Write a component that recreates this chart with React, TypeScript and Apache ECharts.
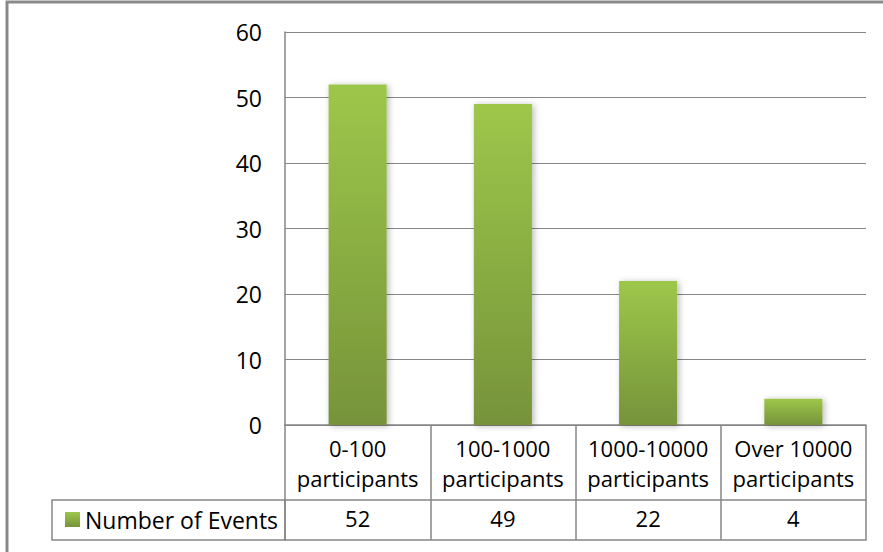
import React, { useEffect, useRef } from "react";
import * as echarts from "echarts";

const categories = ["0-100\nparticipants", "100-1000\nparticipants", "1000-10000\nparticipants", "Over 10000\nparticipants"];
const seriesName = "Number of Events";
const values = [52, 49, 22, 4];
const yTicks = { min: 0, max: 60, interval: 10 };

const FONT = "'Open Sans', 'Noto Sans', sans-serif";
const GRID_COLOR = "#868686";

export default function App() {
  const ref = useRef<HTMLDivElement>(null);
  useEffect(() => {
    if (!ref.current) return;
    const chart = echarts.init(ref.current, undefined, { renderer: "svg" });
    const grid = { left: 285, top: 32, right: 17, bottom: 127 };
    chart.setOption({
      animation: false,
      backgroundColor: "#ffffff",
      textStyle: { fontFamily: FONT },
      grid: { ...grid, containLabel: false },
      legend: {
        left: 60,
        top: 503,
        icon: "rect",
        itemWidth: 15,
        itemHeight: 15,
        itemGap: 10,
        textStyle: { fontFamily: FONT, fontSize: 23, color: "#000" },
        data: [seriesName],
      },
      xAxis: [
        {
          type: "category",
          data: categories,
          axisLine: { show: true, lineStyle: { color: GRID_COLOR, width: 1.5 } },
          axisTick: { show: true, interval: 0, length: 115, lineStyle: { color: GRID_COLOR, width: 1.5 } },
          axisLabel: {
            interval: 0,
            margin: 8,
            fontFamily: FONT,
            fontSize: 22,
            lineHeight: 30,
            color: "#000",
            align: "center",
          },
        },
        {
          type: "category",
          position: "bottom",
          offset: 75,
          data: values.map((v) => String(v)),
          axisLine: { show: true, lineStyle: { color: GRID_COLOR, width: 1.5 } },
          axisTick: { show: false },
          axisLabel: { interval: 0, margin: 6, fontFamily: FONT, fontSize: 22, lineHeight: 24, color: "#000" },
        },
        {
          type: "category",
          position: "bottom",
          offset: 115,
          data: categories,
          axisLine: { show: true, lineStyle: { color: GRID_COLOR, width: 1.5 } },
          axisTick: { show: false },
          axisLabel: { show: false },
        },
      ],
      yAxis: {
        type: "value",
        min: yTicks.min,
        max: yTicks.max,
        interval: yTicks.interval,
        axisLine: { show: true, lineStyle: { color: GRID_COLOR, width: 1.5 } },
        axisTick: { show: false },
        splitLine: { show: true, lineStyle: { color: GRID_COLOR, width: 1.2 } },
        axisLabel: { margin: 23, fontFamily: FONT, fontSize: 23, color: "#000" },
      },
      series: [
        {
          name: seriesName,
          type: "bar",
          xAxisIndex: 0,
          data: values,
          barWidth: "40%",
          itemStyle: {
            color: new echarts.graphic.LinearGradient(0, 0, 0, 1, [
              { offset: 0, color: "#9dc74a" },
              { offset: 1, color: "#76933a" },
            ]),
            shadowBlur: 6,
            shadowColor: "rgba(0,0,0,0.28)",
            shadowOffsetX: 2,
            shadowOffsetY: 1,
          },
        },
      ],
      graphic: [
        {
          type: "rect",
          shape: { x: 52, y: 500, width: 233, height: 40 },
          style: { fill: "none", stroke: GRID_COLOR, lineWidth: 1.5 },
        },
        {
          type: "rect",
          shape: { x: 7, y: 2, width: 1000, height: 1000 },
          style: { fill: "none", stroke: "#898989", lineWidth: 3 },
        },
      ],
    });
    return () => chart.dispose();
  }, []);
  return (
    <div
      ref={ref}
      style={{ position: "fixed", left: 0, top: 0, width: 883, height: 552 }}
    />
  );
}
